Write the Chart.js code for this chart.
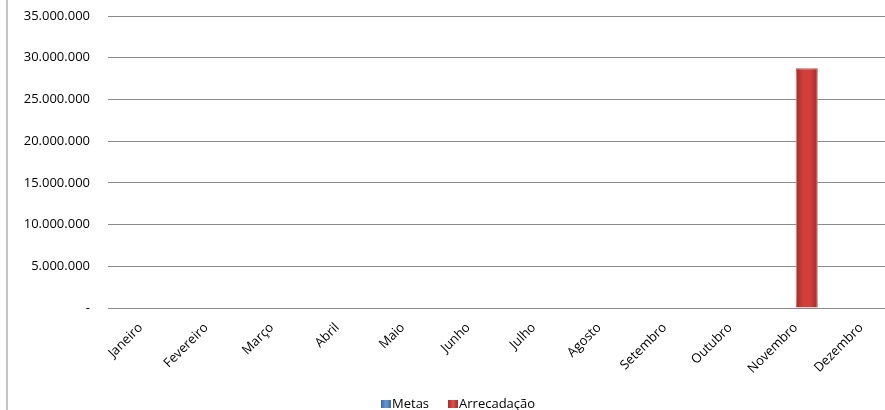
<!DOCTYPE html>
<html>
<head>
<meta charset="utf-8">
<script src="https://cdn.jsdelivr.net/npm/chart.js@4/dist/chart.umd.min.js"></script>
<style>
  html, body { margin: 0; padding: 0; background: #fff; overflow: hidden; width: 885px; height: 410px; }
  #wrap { position: absolute; left: 8px; top: 0; width: 900px; height: 410px; }
  #leftline { position: absolute; left: 6px; top: 0; width: 2px; height: 410px; background: #c4c4c4; }
  #legend { position: absolute; left: 381px; top: 396px; font-family: "Open Sans", sans-serif; font-size: 13px; line-height: 14px; color: #000; white-space: nowrap; }
  #legend span.item { display: inline-block; margin-right: 19px; }
  #legend span.box { display: inline-block; width: 10px; height: 8px; margin-right: 1px; vertical-align: 0px; }
</style>
</head>
<body>
<div id="leftline"></div>
<div id="wrap"><canvas id="c" width="900" height="410"></canvas></div>
<div id="legend"></div>
<script>
const categories = ["Janeiro","Fevereiro","Março","Abril","Maio","Junho","Julho","Agosto","Setembro","Outubro","Novembro","Dezembro"];
const metas = [0,0,0,0,0,0,0,0,0,0,0,0];
const arrecadacao = [0,0,0,0,0,0,0,0,0,0,28750000,0];
const yTicks = [0,5000000,10000000,15000000,20000000,25000000,30000000,35000000];
const seriesNames = ["Metas","Arrecadação"];

const CAT_PCT = 0.672;

function fmt(v) {
  if (v === 0) return "-";
  return String(v).replace(/\B(?=(\d{3})+(?!\d))/g, ".");
}

function barGradient(stops, side) {
  return function(ctx) {
    const c = ctx.chart;
    if (!c.chartArea || !c.scales.x) return stops[1];
    const x = c.scales.x;
    const w = x.width / categories.length * CAT_PCT / 2;
    const cx = x.getPixelForValue(ctx.dataIndex);
    const x0 = side < 0 ? cx - w : cx;
    const g = c.ctx.createLinearGradient(x0, 0, x0 + w, 0);
    g.addColorStop(0, stops[0]);
    g.addColorStop(0.35, stops[1]);
    g.addColorStop(0.65, stops[1]);
    g.addColorStop(1, stops[2]);
    return g;
  };
}

const glow = {
  id: 'glow',
  beforeDatasetsDraw(chart) {
    const ctx = chart.ctx;
    ctx.save();
    ctx.shadowColor = 'rgba(255,255,255,1)';
    ctx.shadowBlur = 14;
  },
  afterDatasetsDraw(chart) {
    chart.ctx.restore();
  }
};

new Chart(document.getElementById('c'), {
  type: 'bar',
  data: {
    labels: categories,
    datasets: [
      {
        label: seriesNames[0],
        data: metas,
        backgroundColor: barGradient(['#3b6aa3', '#5b8ccb', '#3b6aa3'], -1),
        borderColor: '#2f5788',
        borderWidth: 0,
        categoryPercentage: CAT_PCT,
        barPercentage: 1
      },
      {
        label: seriesNames[1],
        data: arrecadacao,
        backgroundColor: barGradient(['#a52b28', '#d2403c', '#a52b28'], 1),
        borderColor: '#962522',
        borderWidth: 1,
        categoryPercentage: CAT_PCT,
        barPercentage: 1
      }
    ]
  },
  options: {
    responsive: false,
    animation: false,
    layout: { padding: { top: 16, right: 14, left: 0, bottom: 0 } },
    plugins: {
      legend: { display: false },
      tooltip: { enabled: false }
    },
    scales: {
      x: {
        grid: { display: false },
        border: { display: false },
        ticks: {
          maxRotation: 45,
          minRotation: 45,
          padding: 4,
          color: '#000',
          font: { family: '"Open Sans", sans-serif', size: 13 }
        },
        afterFit(scale) { scale.height = 102; }
      },
      y: {
        min: 0,
        max: 35000000,
        afterBuildTicks(scale) { scale.ticks = yTicks.map(v => ({ value: v })); },
        grid: { color: '#8a8a8a', lineWidth: 1, drawTicks: false },
        border: { display: false },
        ticks: {
          padding: 18,
          color: '#000',
          font: { family: '"Open Sans", sans-serif', size: 13 },
          callback: v => fmt(v)
        },
        afterFit(scale) { scale.width = 100; scale.paddingTop = 0; scale.paddingBottom = 0; }
      }
    }
  },
  plugins: [glow]
});

const legendColors = [
  'linear-gradient(to right, #3b6aa3, #6a9ad6, #3b6aa3)',
  'linear-gradient(to right, #a52b28, #e0514c, #a52b28)'
];
const lg = document.getElementById('legend');
seriesNames.forEach((n, i) => {
  const item = document.createElement('span');
  item.className = 'item';
  const box = document.createElement('span');
  box.className = 'box';
  box.style.background = legendColors[i];
  item.appendChild(box);
  item.appendChild(document.createTextNode(n));
  lg.appendChild(item);
});
</script>
</body>
</html>
